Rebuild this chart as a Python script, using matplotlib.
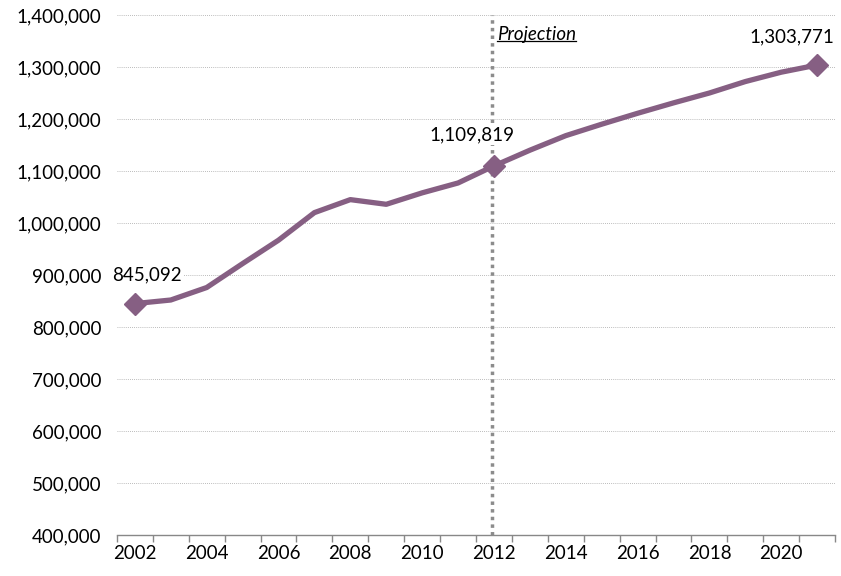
import matplotlib
matplotlib.use("Agg")
import matplotlib.pyplot as plt
from matplotlib.ticker import FuncFormatter, MultipleLocator, FixedLocator

# --------------------------------------------------------
# Data
# --------------------------------------------------------
years = list(range(2002, 2022))
values = [845092, 852000, 876000, 922000, 967000, 1020000, 1045000, 1036000,
          1058000, 1077000, 1109819, 1140000, 1168000, 1190000, 1211000,
          1231000, 1250000, 1272000, 1290000, 1303771]
labelled_years = [2002, 2012, 2021]
projection_year = 2012
projection_text = "Projection"

line_color = "#865F83"
grid_color = "#A6A6A6"

plt.rcParams['font.family'] = ['Lato', 'DejaVu Sans']
fs = 13.5

fig = plt.figure(figsize=(8.41, 5.76), dpi=100)
ax = fig.add_axes([0.139, 0.071, 0.854, 0.903])

ax.plot(years, values, color=line_color, lw=3.8, solid_joinstyle="round", zorder=3)

lab_vals = [values[years.index(y)] for y in labelled_years]
ax.plot(labelled_years, lab_vals, ls="none", marker="D", ms=11,
        color=line_color, zorder=4)

# data labels
offsets = {2002: (12, 29), 2012: (-22, 31), 2021: (-25, 28)}
for y, v in zip(labelled_years, lab_vals):
    dx, dy = offsets[y]
    ax.annotate(f"{v:,}", (y, v), xytext=(dx, dy), textcoords="offset pixels",
                ha="center", va="center", fontsize=fs, zorder=5,
                bbox=dict(facecolor="white", edgecolor="none", pad=1.5))

# projection line
ax.axvline(projection_year - 0.05, color="#8C8C8C", lw=2.5, ls=(0, (1, 1.2)), zorder=2)
t = ax.text(projection_year + 0.08, 1362000, projection_text, fontsize=fs,
            style="italic", ha="left", va="center", zorder=5)

ax.set_ylim(400000, 1400000)
ax.set_xlim(2001.5, 2021.5)
ax.yaxis.set_major_locator(MultipleLocator(100000))
ax.yaxis.set_major_formatter(FuncFormatter(lambda v, p: f"{int(v):,}"))
ax.xaxis.set_major_locator(FixedLocator(years[::2]))
ax.xaxis.set_minor_locator(FixedLocator([y - 0.5 for y in years] + [2021.5]))

ax.grid(axis="y", color=grid_color, lw=0.6, ls=(0, (1, 1.5)))
ax.set_axisbelow(True)

for s in ["left", "right", "top"]:
    ax.spines[s].set_visible(False)
ax.spines["bottom"].set_color("#888888")
ax.spines["bottom"].set_linewidth(1.0)

ax.tick_params(axis="y", length=0, labelsize=fs, pad=11)
ax.tick_params(axis="x", which="major", length=0, labelsize=fs, pad=7)
ax.tick_params(axis="x", which="minor", length=5, color="#888888", width=1.0)

# underline for the projection label
fig.canvas.draw()
bb = t.get_window_extent().transformed(ax.transAxes.inverted())
ax.plot([bb.x0, bb.x1], [bb.y0 + 0.004, bb.y0 + 0.004], color="black", lw=0.9,
        transform=ax.transAxes, clip_on=False, zorder=5)

fig.savefig("out.png", dpi=100)
